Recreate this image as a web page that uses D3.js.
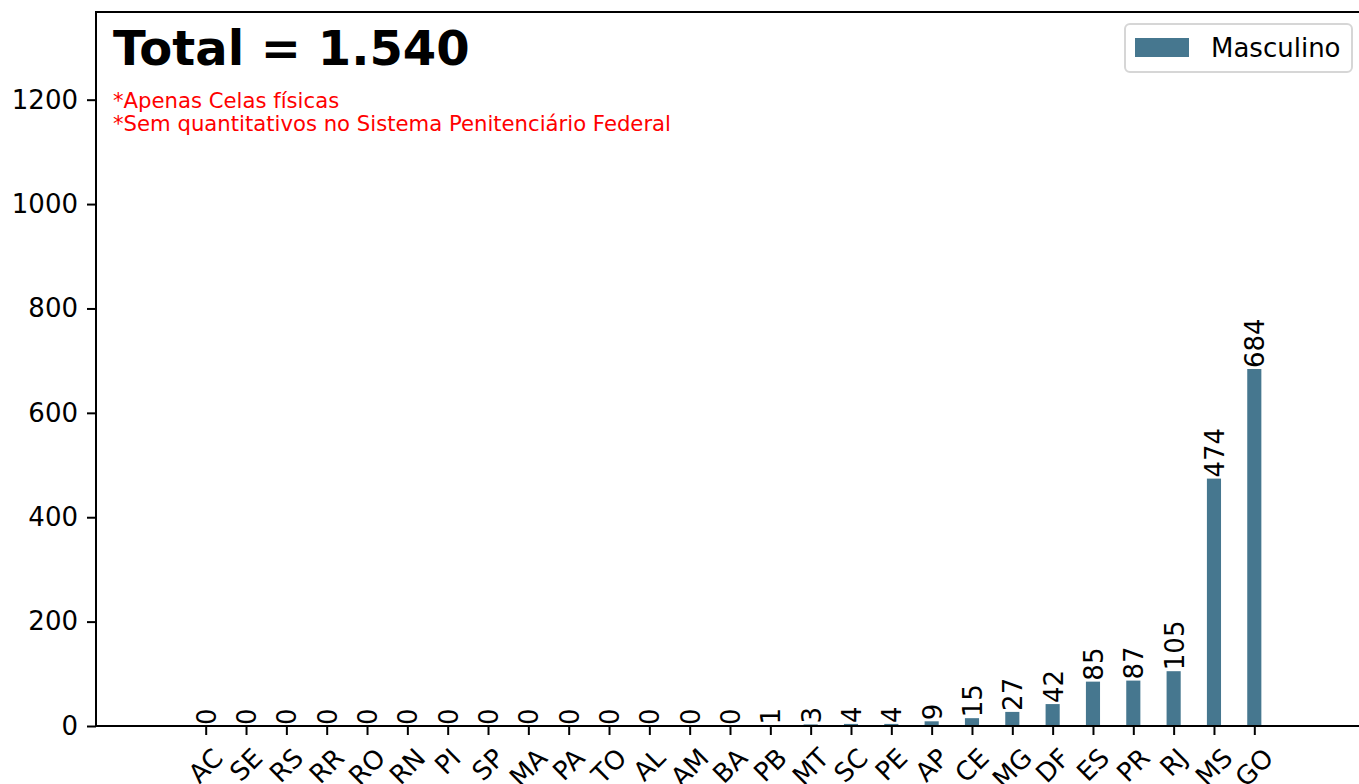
<!DOCTYPE html>
<html>
<head>
<meta charset="utf-8">
<script src="https://cdn.jsdelivr.net/npm/d3@7"></script>
<style>
    body { margin: 0; background: #fff; }
    svg { display: block; font-family: "DejaVu Sans", sans-serif; }
</style>
</head>
<body>
<div id="chart"></div>
<script>
// states, sorted by count
var estados = ["AC", "SE", "RS", "RR", "RO", "RN", "PI", "SP", "MA", "PA", "TO", "AL", "AM", "BA",
    "PB", "MT", "SC", "PE", "AP", "CE", "MG", "DF", "ES", "PR", "RJ", "MS", "GO"];
var masculino = [0, 0, 0, 0, 0, 0, 0, 0, 0, 0, 0, 0, 0, 0,
    1, 3, 4, 4, 9, 15, 27, 42, 85, 87, 105, 474, 684];
var yTicks = [0, 200, 400, 600, 800, 1000, 1200];
var serieNome = "Masculino";
var totalTexto = "Total = 1.540";
var notas = ["*Apenas Celas físicas", "*Sem quantitativos no Sistema Penitenciário Federal"];

(function () {
    var width = 1359, height = 784;
    var left = 96, right = 1364, top = 12, bottom = 726;
    var barColor = "#46778f";
    var fs = 26;

    var svg = d3.select("#chart").append("svg")
        .attr("width", width)
        .attr("height", height);

    var x = d3.scalePoint()
        .domain(estados)
        .range([left, right])
        .padding(2.72);
    var step = x.step();
    var barW = step * 0.35;

    var y = d3.scaleLinear()
        .domain([0, d3.max(masculino) * 2])
        .range([bottom, top]);

    // bars
    svg.append("g")
        .selectAll("rect")
        .data(masculino)
        .enter().append("rect")
        .attr("x", function (d, i) { return x(estados[i]) - barW / 2; })
        .attr("width", barW)
        .attr("y", function (d) { return y(d); })
        .attr("height", function (d) { return bottom - y(d); })
        .attr("fill", barColor);

    // value labels (rotated)
    svg.append("g")
        .selectAll("text")
        .data(masculino)
        .enter().append("text")
        .attr("transform", function (d, i) {
            return "translate(" + (x(estados[i]) + 1) + "," + (y(d) - 1) + ") rotate(-90)";
        })
        .attr("text-anchor", "start")
        .attr("dominant-baseline", "central")
        .attr("font-size", fs)
        .attr("fill", "#000")
        .text(function (d) { return d; });

    // y axis
    var yAxis = svg.append("g")
        .attr("transform", "translate(" + left + ",0)")
        .call(d3.axisLeft(y).tickValues(yTicks).tickFormat(d3.format("d")).tickSize(9).tickPadding(9));
    yAxis.select(".domain").remove();
    yAxis.selectAll("line").attr("stroke", "#000").attr("stroke-width", 2);
    yAxis.selectAll("text").attr("font-size", fs).attr("font-family", "DejaVu Sans").attr("fill", "#000");

    // x axis
    var xAxis = svg.append("g")
        .attr("transform", "translate(0," + bottom + ")")
        .call(d3.axisBottom(x).tickSize(9).tickFormat(""));
    xAxis.select(".domain").remove();
    xAxis.selectAll("line").attr("stroke", "#000").attr("stroke-width", 2);

    // rotated x labels, centered on tick like matplotlib rotation=45
    var xl = svg.append("g");
    estados.forEach(function (s) {
        var t = xl.append("text")
            .attr("font-size", fs)
            .attr("text-anchor", "middle")
            .attr("dominant-baseline", "central")
            .attr("fill", "#000")
            .text(s);
        var w = t.node().getComputedTextLength();
        var side = (w + fs) * Math.SQRT1_2;
        t.attr("transform", "translate(" + x(s) + "," + (bottom + 18 + side / 2) + ") rotate(-45)");
    });

    // spines
    var sp = svg.append("g").attr("stroke", "#000").attr("stroke-width", 2);
    sp.append("line").attr("x1", left).attr("x2", left).attr("y1", top).attr("y2", bottom + 1);
    sp.append("line").attr("x1", left - 1).attr("x2", right).attr("y1", bottom).attr("y2", bottom);
    sp.append("line").attr("x1", left - 1).attr("x2", right).attr("y1", top).attr("y2", top);
    sp.append("line").attr("x1", right).attr("x2", right).attr("y1", top).attr("y2", bottom);

    // total + notes
    svg.append("text")
        .attr("x", 113).attr("y", 65)
        .attr("font-size", 48).attr("font-weight", "bold")
        .attr("fill", "#000")
        .text(totalTexto);
    svg.append("g").selectAll("text")
        .data(notas)
        .enter().append("text")
        .attr("x", 113)
        .attr("y", function (d, i) { return 108 + i * 23; })
        .attr("font-size", 21.2)
        .attr("fill", "#ff0000")
        .text(function (d) { return d; });

    // legend
    var lg = svg.append("g");
    lg.append("rect")
        .attr("x", 1125).attr("y", 24)
        .attr("width", 227).attr("height", 48)
        .attr("rx", 5)
        .attr("fill", "#fff").attr("fill-opacity", 0.8)
        .attr("stroke", "#d6d6d6").attr("stroke-width", 2);
    lg.append("rect")
        .attr("x", 1135).attr("y", 38)
        .attr("width", 54).attr("height", 19)
        .attr("fill", barColor);
    lg.append("text")
        .attr("x", 1211).attr("y", 57)
        .attr("font-size", fs)
        .attr("fill", "#000")
        .text(serieNome);
})();
</script>
</body>
</html>
